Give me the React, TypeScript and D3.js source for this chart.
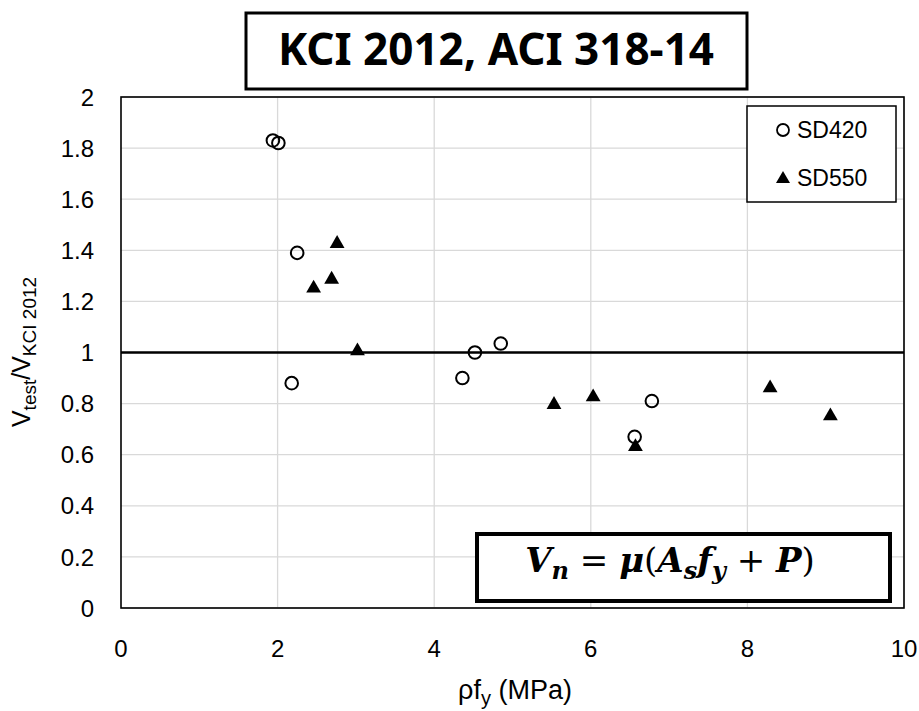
import React from "react";
import * as d3 from "d3";

const sd420X = [1.94, 2.01, 2.25, 2.18, 4.36, 4.52, 4.85, 6.78, 6.56];
const sd420Y = [1.83, 1.82, 1.39, 0.88, 0.9, 1.0, 1.035, 0.81, 0.67];
const sd550X = [2.76, 2.69, 2.46, 3.02, 5.53, 6.03, 6.57, 8.29, 9.06];
const sd550Y = [1.43, 1.29, 1.255, 1.01, 0.8, 0.83, 0.635, 0.865, 0.755];
const xTicks = [0, 2, 4, 6, 8, 10];
const yTicks = [0, 0.2, 0.4, 0.6, 0.8, 1, 1.2, 1.4, 1.6, 1.8, 2];
const xGrid = [2, 4, 6, 8, 10];
const refLine = [1];

export default function App() {
  const W = 919, H = 711;
  const left = 121, right = 904, top = 97, bottom = 608;
  const x = d3.scaleLinear().domain([0, 10]).range([left, right]);
  const y = d3.scaleLinear().domain([0, 2]).range([bottom, top]);
  const tri = d3.symbol().type(d3.symbolTriangle).size(95)();
  const font = "'Liberation Sans', Arial, sans-serif";
  return (
    <svg width={W} height={H} style={{ position: "absolute", left: 0, top: 0, background: "#fff" }}>
      <rect x={0} y={0} width={W} height={H} fill="#fff" />
      {/* grid */}
      {yTicks.map((t) => (
        <line key={"gy" + t} x1={left} x2={right} y1={y(t)} y2={y(t)} stroke="#d9d9d9" strokeWidth={1.3} />
      ))}
      {xGrid.map((t) => (
        <line key={"gx" + t} x1={x(t)} x2={x(t)} y1={top} y2={bottom} stroke="#d9d9d9" strokeWidth={1.3} />
      ))}
      <rect x={left} y={top} width={right - left} height={bottom - top} fill="none" stroke="#000" strokeWidth={1.6} />
      {refLine.map((v) => (
        <line key={"r" + v} x1={left} x2={right} y1={y(v)} y2={y(v)} stroke="#000" strokeWidth={2.5} />
      ))}
      {/* ticks */}
      {yTicks.map((t) => (
        <text key={"ty" + t} x={94} y={y(t)} dy="0.36em" textAnchor="end" fontFamily={font} fontSize={24} fill="#000">
          {d3.format("~g")(t)}
        </text>
      ))}
      {xTicks.map((t) => (
        <text key={"tx" + t} x={x(t)} y={648} dy="0.36em" textAnchor="middle" fontFamily={font} fontSize={24} fill="#000">
          {t}
        </text>
      ))}
      {/* axis titles */}
      <text x={515} y={699} textAnchor="middle" fontFamily={font} fontSize={27} fill="#000">
        ρf<tspan dy={6} fontSize={20}>y</tspan>
        <tspan dy={-6}> (MPa)</tspan>
      </text>
      <text transform={`translate(30,352) rotate(-90)`} textAnchor="middle" fontFamily={font} fontSize={25} fill="#000">
        V<tspan dy={6} fontSize={19}>test</tspan>
        <tspan dy={-6}>/V</tspan>
        <tspan dy={6} fontSize={19}>KCI 2012</tspan>
      </text>
      {/* data */}
      {sd420X.map((v, i) => (
        <circle key={"c" + i} cx={x(v)} cy={y(sd420Y[i])} r={6.3} fill="none" stroke="#000" strokeWidth={2} />
      ))}
      {sd550X.map((v, i) => (
        <path key={"t" + i} d={tri || ""} transform={`translate(${x(v)},${y(sd550Y[i]) + 1})`} fill="#000" />
      ))}
      {/* legend */}
      <rect x={747} y={106} width={149} height={96} fill="#fff" stroke="#000" strokeWidth={1.5} />
      <circle cx={783} cy={130} r={6} fill="none" stroke="#000" strokeWidth={1.8} />
      <text x={797} y={130} dy="0.36em" fontFamily={font} fontSize={23} fill="#000">SD420</text>
      <path d={d3.symbol().type(d3.symbolTriangle).size(85)() || ""} transform="translate(783,179)" fill="#000" />
      <text x={797} y={178} dy="0.36em" fontFamily={font} fontSize={23} fill="#000">SD550</text>
      {/* formula box */}
      <rect x={477} y={534} width={413} height={67} fill="#fff" stroke="#000" strokeWidth={4} />
      <text x={670} y={572} textAnchor="middle" fontFamily="'DejaVu Serif', 'Liberation Serif', serif" fontStyle="italic" fontWeight="bold" fontSize={34} fill="#000">
        V<tspan dy={7} fontSize={24}>n</tspan>
        <tspan dy={-7} fontStyle="normal" fontWeight="normal"> = </tspan>
        <tspan>μ</tspan>
        <tspan fontStyle="normal" fontWeight="normal">(</tspan>
        <tspan>A</tspan>
        <tspan dy={7} fontSize={24}>s</tspan>
        <tspan dy={-7}>f</tspan>
        <tspan dy={7} fontSize={24}>y</tspan>
        <tspan dy={-7} fontStyle="normal" fontWeight="normal"> + </tspan>
        <tspan>P</tspan>
        <tspan fontStyle="normal" fontWeight="normal">)</tspan>
      </text>
      {/* title box */}
      <rect x={246} y={13} width={501} height={76} fill="#fff" stroke="#000" strokeWidth={3} />
      <text x={496} y={65} textAnchor="middle" fontFamily="'Noto Sans', sans-serif" fontWeight="bold" fontSize={44} fill="#000">
        KCI 2012, ACI 318-14
      </text>
    </svg>
  );
}
